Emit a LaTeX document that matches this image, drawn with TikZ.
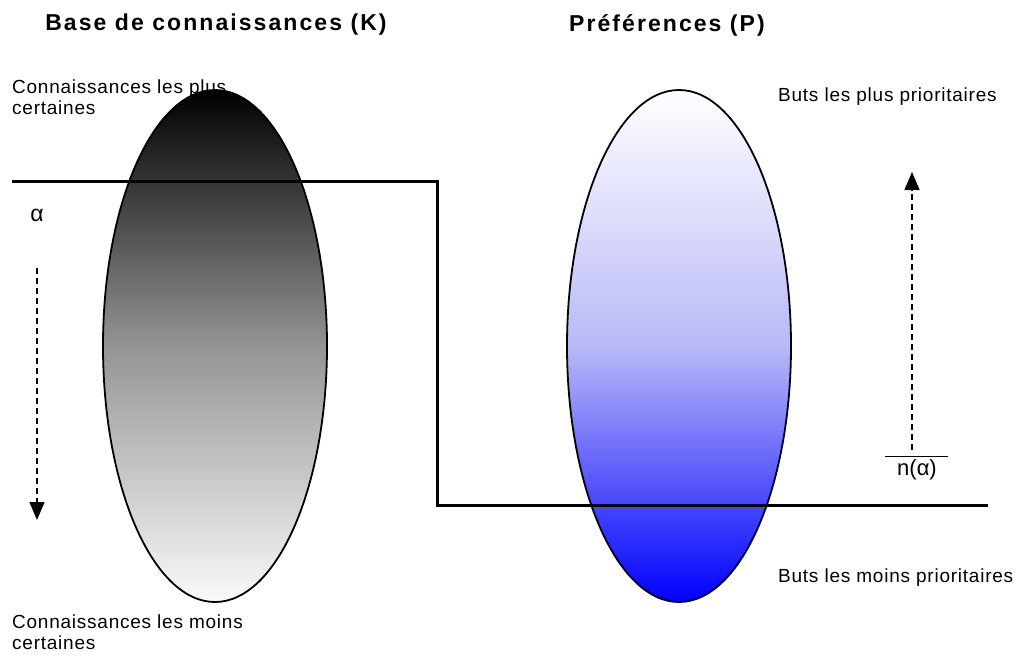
\documentclass[tikz,border=0pt]{standalone}
\usepackage{fontspec}
\setmainfont{Liberation Sans}
\newfontfamily\spaced[LetterSpace=4]{Liberation Sans}
\newfontfamily\tspaced[LetterSpace=9]{Liberation Sans}
\usetikzlibrary{arrows.meta}
\begin{document}
\begin{tikzpicture}[x=1pt,y=-1pt,
  lbl/.style={font=\spaced\fontsize{19}{21}\selectfont, inner sep=0pt, anchor=west, align=left},
  ttl/.style={font=\tspaced\fontsize{23}{26}\selectfont\bfseries, inner sep=0pt},
  stepline/.style={line width=3pt},
  dasharrow/.style={line width=1.4pt, dash pattern=on 6pt off 4pt, -{Triangle[width=15pt,length=18pt]}},
  ovalborder/.style={draw=black, line width=1.8pt}]
\useasboundingbox (0,0) rectangle (1016,658);
% titles
\node[ttl] (t1) at (216,25) {Base de connaissances (K)};
\node[ttl] (t2) at (667,25) {Préférences (P)};
% ellipses
\shade[top color=black, bottom color={rgb,255:red,250;green,250;blue,250}, middle color={black!42}, ovalborder] (215,346) ellipse [x radius=112pt, y radius=256pt];
\shade[top color=white, bottom color={rgb,255:red,0;green,0;blue,255}, middle color={rgb,255:red,185;green,185;blue,248}, ovalborder] (679,346) ellipse [x radius=112pt, y radius=256pt];
% step line
\coordinate (s1) at (12,181);
\coordinate (s2) at (437,181);
\coordinate (s3) at (437,505);
\coordinate (s4) at (988,505);
\draw[stepline] (s1) -- (s2) -- (s3) -- (s4);
% labels
\node[lbl] (ktop) at (12,97) {Connaissances les plus\\certaines};
\node[lbl] (kbot) at (12,632) {Connaissances les moins\\certaines};
\node[lbl] (ptop) at (778,97) {Buts les plus prioritaires};
\node[lbl] (pbot) at (778,578) {Buts les moins prioritaires};
\node[font=\fontsize{23}{26}\selectfont, inner sep=0pt] (alpha) at (37,215) {α};
\node[font=\fontsize{22}{26}\selectfont, inner sep=0pt] (nalpha) at (917,470) {n(α)};
\coordinate (ol1) at (885,456);
\coordinate (ol2) at (948,456);
\draw[line width=1pt] (ol1) -- (ol2);
% arrows
\coordinate (a1) at (37,268);
\coordinate (a2) at (37,520);
\draw[dasharrow] (a1) -- (a2);
\coordinate (b1) at (912,450);
\coordinate (b2) at (912,172);
\draw[dasharrow] (b1) -- (b2);
\end{tikzpicture}
\end{document}
